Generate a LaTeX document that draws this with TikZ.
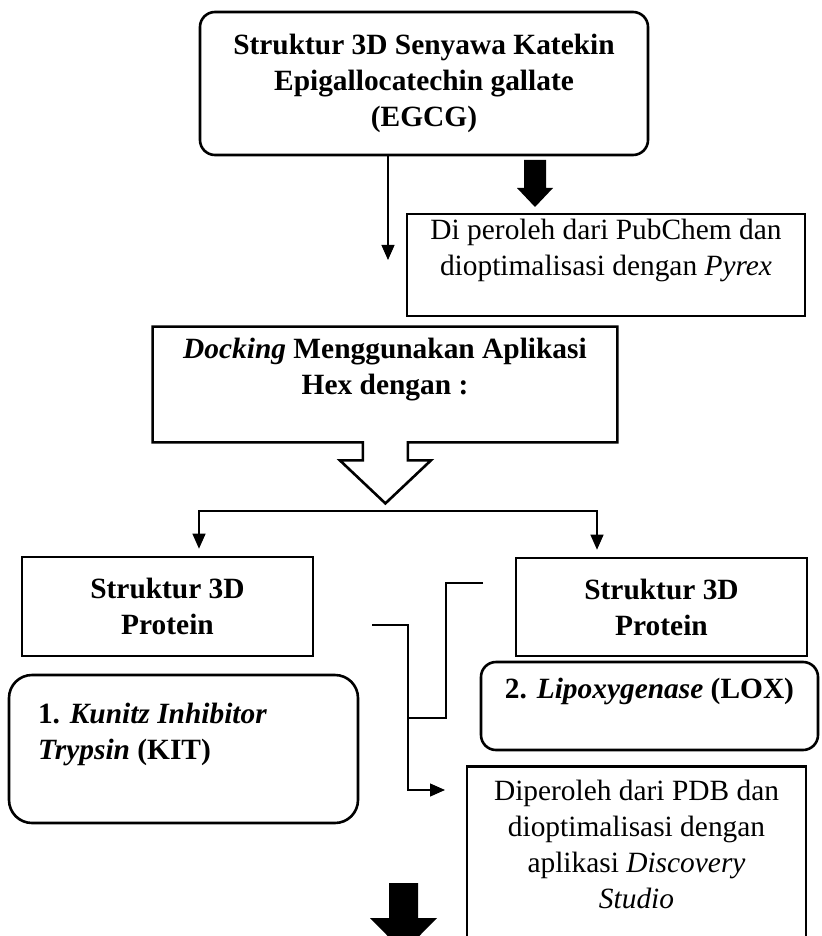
\documentclass[tikz,border=0pt]{standalone}
\usepackage{fontspec}
\setmainfont{Liberation Serif}
\usepackage{tikz}
\usetikzlibrary{arrows.meta}
\tikzstyle{boxline} = [line width=1.3pt]
\tikzstyle{plaintext} = [font=\fontsize{14.7}{18}\selectfont]
\tikzstyle{boldtext} = [font=\fontsize{14.7}{18}\selectfont\bfseries]
\tikzstyle{flatbox} = [draw, boxline, fill=white, rectangle, inner sep=0pt, align=center]
\tikzstyle{roundbox} = [flatbox, rounded corners=7.5pt]
\tikzstyle{connarrow} = [line width=0.6pt, -{Triangle[length=7.5pt,width=6.5pt]}]
\tikzstyle{link} = [line width=0.6pt]

\begin{document}
\begin{tikzpicture}[x=0.5pt, y=-0.5pt]
    \useasboundingbox (0,0) rectangle (822,936);
    \clip (0,0) rectangle (822,936);

    \node[roundbox, boldtext, minimum width=224pt, minimum height=71.5pt] (egcg) at (424,83.5) {Struktur 3D Senyawa Katekin\\Epigallocatechin gallate\\(EGCG)};
    \node[flatbox, plaintext, minimum width=199pt, minimum height=51pt] (pubchem) at (606,265) {Di peroleh dari PubChem dan\\dioptimalisasi dengan \textit{Pyrex}\\\mbox{}};

    \node[boldtext, align=center, inner sep=0pt, minimum width=232pt, minimum height=57.5pt] (dock) at (385,384.5) {\textit{Docking} Menggunakan Aplikasi\\Hex dengan :\\\mbox{}};
    \draw[boxline] (dock.north west) -- (dock.north east) -- (dock.south east) -- ++(-209.5,0) -- ++(0,18) -- ++(23,0) -- ++(-45.5,43) -- ++(-45.5,-43) -- ++(23,0) -- ++(0,-18) -- (dock.south west) -- cycle;

    \node[flatbox, boldtext, minimum width=145.5pt, minimum height=49.5pt] (protA) at (167.5,606.5) {Struktur 3D\\Protein};
    \node[flatbox, boldtext, minimum width=145.5pt, minimum height=49pt] (protB) at (661.5,607) {Struktur 3D\\Protein};
    \node[roundbox, boldtext, rounded corners=11.5pt, align=flush left, inner xsep=14.5pt, text width=145.5pt, minimum width=174.5pt, minimum height=74pt] (kit) at (183.5,749) {1. \textit{Kunitz Inhibitor}\\\textit{Trypsin} (KIT)\\\mbox{}};
    \node[roundbox, boldtext, minimum width=168.5pt, minimum height=44pt] (lox) at (649.5,706) {2. \textit{Lipoxygenase} (LOX)\\\mbox{}};
    \node[flatbox, plaintext, anchor=north, inner ysep=7pt, minimum width=169.5pt] (pdb) at (636.5,765) {Diperoleh dari PDB dan\\dioptimalisasi dengan\\aplikasi \textit{Discovery}\\\textit{Studio}\\\mbox{}};

    \coordinate (hexTip) at (388,260);
    \draw[connarrow] (egcg.south -| hexTip) -- (hexTip);

    \coordinate (splitL) at (199,511);
    \coordinate (splitR) at (597,511);
    \draw[link, {Triangle[length=7.5pt,width=6.5pt]}-{Triangle[length=7.5pt,width=6.5pt]}, shorten <=3.5pt, shorten >=3.5pt] (splitL |- protA.north) -- (splitL) -- (splitR) -- (splitR |- protB.north);

    \coordinate (kitOut) at (372,625);
    \coordinate (loxOut) at (483,583);
    \coordinate (loxBend) at (446,718);
    \coordinate (join) at (408,718);
    \coordinate (pdbTip) at (445,790);
    \draw[connarrow] (kitOut) -| (join) |- (pdbTip);
    \draw[link] (loxOut) -| (loxBend) -- (join);

    \fill (524,160) -- (546,160) -- (546,188) -- (553,188) -- (535,207) -- (517,188) -- (524,188) -- cycle;
    \fill (389,883) -- (418,883) -- (418,918) -- (437,918) -- (403.5,952) -- (370,918) -- (389,918) -- cycle;
\end{tikzpicture}
\end{document}
